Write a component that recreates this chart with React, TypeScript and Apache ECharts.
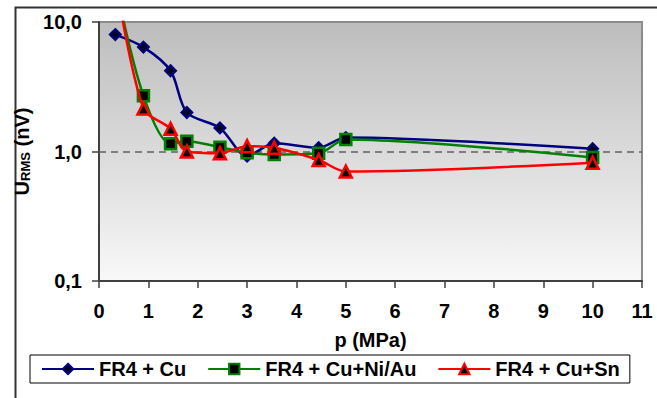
import React, { useEffect, useRef } from "react";
import * as echarts from "echarts";

const pressure = [0.33, 0.9, 1.45, 1.78, 2.45, 3.0, 3.55, 4.45, 5.0, 10];
const cuValues = [8.0, 6.4, 4.2, 2.0, 1.52, 0.92, 1.16, 1.07, 1.28, 1.05];
const niAuValues = [20, 2.7, 1.15, 1.2, 1.08, 0.98, 0.95, 0.97, 1.24, 0.9];
const snValues = [22, 2.15, 1.5, 1.0, 0.97, 1.1, 1.07, 0.86, 0.7, 0.82];
const seriesNames = ["FR4 + Cu", "FR4 + Cu+Ni/Au", "FR4 + Cu+Sn"];
const xTitle = "p (MPa)";

const FONT = "'Liberation Sans', Arial, sans-serif";

function pairs(xs: number[], ys: number[]) {
  return xs.map((x, i) => [x, ys[i]]);
}

export default function App() {
  const ref = useRef<HTMLDivElement>(null);
  useEffect(() => {
    if (!ref.current) return;
    const chart = echarts.init(ref.current, undefined, { renderer: "svg" });
    const common = {
      type: "line",
      smooth: 0.3,
      clip: true,
      showAllSymbol: true,
    };
    chart.setOption({
      animation: false,
      textStyle: { fontFamily: FONT },
      graphic: [
        {
          type: "rect",
          left: 13,
          top: 5,
          shape: { x: 0, y: 0, width: 643, height: 400 },
          style: { fill: "none", stroke: "#333", lineWidth: 2 },
          z: -1,
          silent: true,
        },
      ],
      grid: {
        left: 99,
        right: 15,
        top: 22,
        bottom: 117,
        show: true,
        borderColor: "#8c8c8c",
        borderWidth: 2,
        backgroundColor: new echarts.graphic.LinearGradient(0, 0, 0, 1, [
          { offset: 0, color: "#bdbdbd" },
          { offset: 1, color: "#f8f8f8" },
        ]),
      },
      legend: {
        left: 30,
        top: 355,
        orient: "horizontal",
        padding: [3, 10, 3, 11],
        itemGap: 21,
        itemWidth: 52,
        itemHeight: 13,
        borderColor: "#000",
        borderWidth: 1,
        backgroundColor: "#fff",
        textStyle: { fontSize: 20, fontWeight: "bold", color: "#000", fontFamily: FONT, lineHeight: 22 },
        data: seriesNames,
      },
      xAxis: {
        type: "value",
        min: 0,
        max: 11,
        interval: 1,
        name: xTitle,
        nameLocation: "middle",
        nameGap: 49,
        nameTextStyle: { fontSize: 20, fontWeight: "bold", color: "#000", fontFamily: FONT },
        axisLine: { show: true, lineStyle: { color: "#404040", width: 2 } },
        axisTick: { show: true, inside: false, length: 7, lineStyle: { color: "#404040", width: 1.5 } },
        axisLabel: { fontSize: 20, fontWeight: "bold", color: "#000", margin: 20, fontFamily: FONT },
        splitLine: { show: false },
      },
      yAxis: {
        type: "log",
        logBase: 10,
        min: 0.1,
        max: 10,
        name: "{a|U}{b|RMS}{a| (nV)}",
        nameLocation: "middle",
        nameRotate: 90,
        nameGap: 53,
        nameTextStyle: {
          rich: {
            a: { fontSize: 20, fontWeight: "bold", color: "#000", fontFamily: FONT },
            b: { fontSize: 13, fontWeight: "bold", color: "#000", fontFamily: FONT, verticalAlign: "bottom" },
          },
        },
        axisLine: { show: true, lineStyle: { color: "#404040", width: 2 } },
        axisTick: { show: true, inside: false, length: 7, lineStyle: { color: "#404040", width: 1.5 } },
        axisLabel: {
          fontSize: 20,
          fontWeight: "bold",
          color: "#000",
          margin: 17,
          fontFamily: FONT,
          formatter: (v: number) => v.toFixed(1).replace(".", ","),
        },
        splitLine: { show: false },
        minorTick: { show: false },
      },
      series: [
        {
          ...common,
          name: seriesNames[0],
          data: pairs(pressure, cuValues),
          symbol: "diamond",
          symbolSize: 11,
          itemStyle: { color: "#000020", borderColor: "#000080", borderWidth: 2 },
          lineStyle: { color: "#000080", width: 2.5 },
          z: 3,
          markLine: {
            silent: true,
            symbol: "none",
            label: { show: false },
            lineStyle: { color: "#606060", type: [7, 5], width: 1.5 },
            data: [{ yAxis: 1 }],
            z: 1,
          },
        },
        {
          ...common,
          name: seriesNames[1],
          data: pairs(pressure, niAuValues),
          symbol: "rect",
          symbolSize: 11,
          itemStyle: { color: "#000", borderColor: "#008000", borderWidth: 2.5 },
          lineStyle: { color: "#008000", width: 2.5 },
          z: 4,
        },
        {
          ...common,
          name: seriesNames[2],
          data: pairs(pressure, snValues),
          symbol: "triangle",
          symbolSize: 12,
          itemStyle: { color: "#000", borderColor: "#ff0000", borderWidth: 2.5 },
          lineStyle: { color: "#ff0000", width: 2.5 },
          z: 5,
        },
      ],
    });
    return () => chart.dispose();
  }, []);
  return (
    <div
      ref={ref}
      style={{ position: "absolute", left: 0, top: 0, width: 657, height: 398, background: "#fff" }}
    />
  );
}
